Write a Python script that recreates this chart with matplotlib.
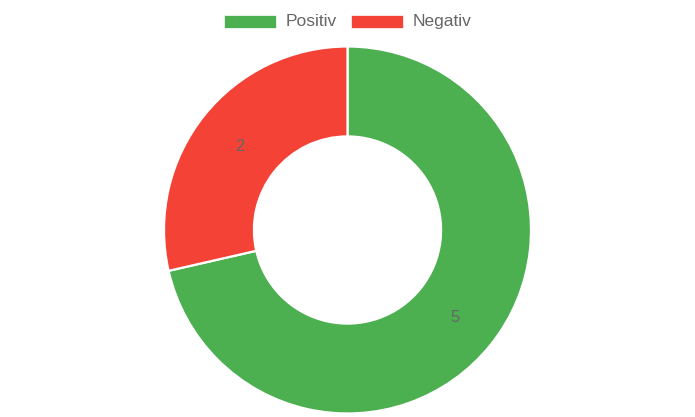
import matplotlib.pyplot as plt
from matplotlib.patches import Rectangle

# data
labels = ['Positiv', 'Negativ']
values = [5, 2]
colors = ['#4CAF50', '#F44336']

W, H = 695, 417
fig = plt.figure(figsize=(W / 100, H / 100), dpi=100)
ax = fig.add_axes([0, 0, 1, 1])
ax.set_xlim(0, W)
ax.set_ylim(0, H)
ax.set_aspect('equal')
ax.axis('off')

cx, cy, r = 347.5, H - 230, 183.5
wedges, texts = ax.pie(values, colors=colors, radius=r, center=(cx, cy),
                       startangle=90, counterclock=False,
                       labels=[str(v) for v in values], labeldistance=0.75,
                       wedgeprops=dict(width=r * 0.49, edgecolor='white', linewidth=1.6),
                       textprops=dict(color='#666666', fontsize=12, family='Liberation Sans'))
for t in texts:
    t.set_ha('center')
    t.set_va('center')
    x, y = t.get_position()
    t.set_position((x, y - 2))  # chart.js draws a touch lower
ax.set_xlim(0, W)
ax.set_ylim(0, H)

# legend drawn by hand, chart.js style
box_x = [224, 351]
for i, lab in enumerate(labels):
    ax.add_patch(Rectangle((box_x[i], H - 28), 52, 13, facecolor=colors[i],
                           edgecolor='white', linewidth=0.5))
    ax.text(box_x[i] + 62, H - 21.5, lab, color='#666666', fontsize=12.5,
            family='Liberation Sans', va='center', ha='left')

fig.savefig('out.png', dpi=100)
